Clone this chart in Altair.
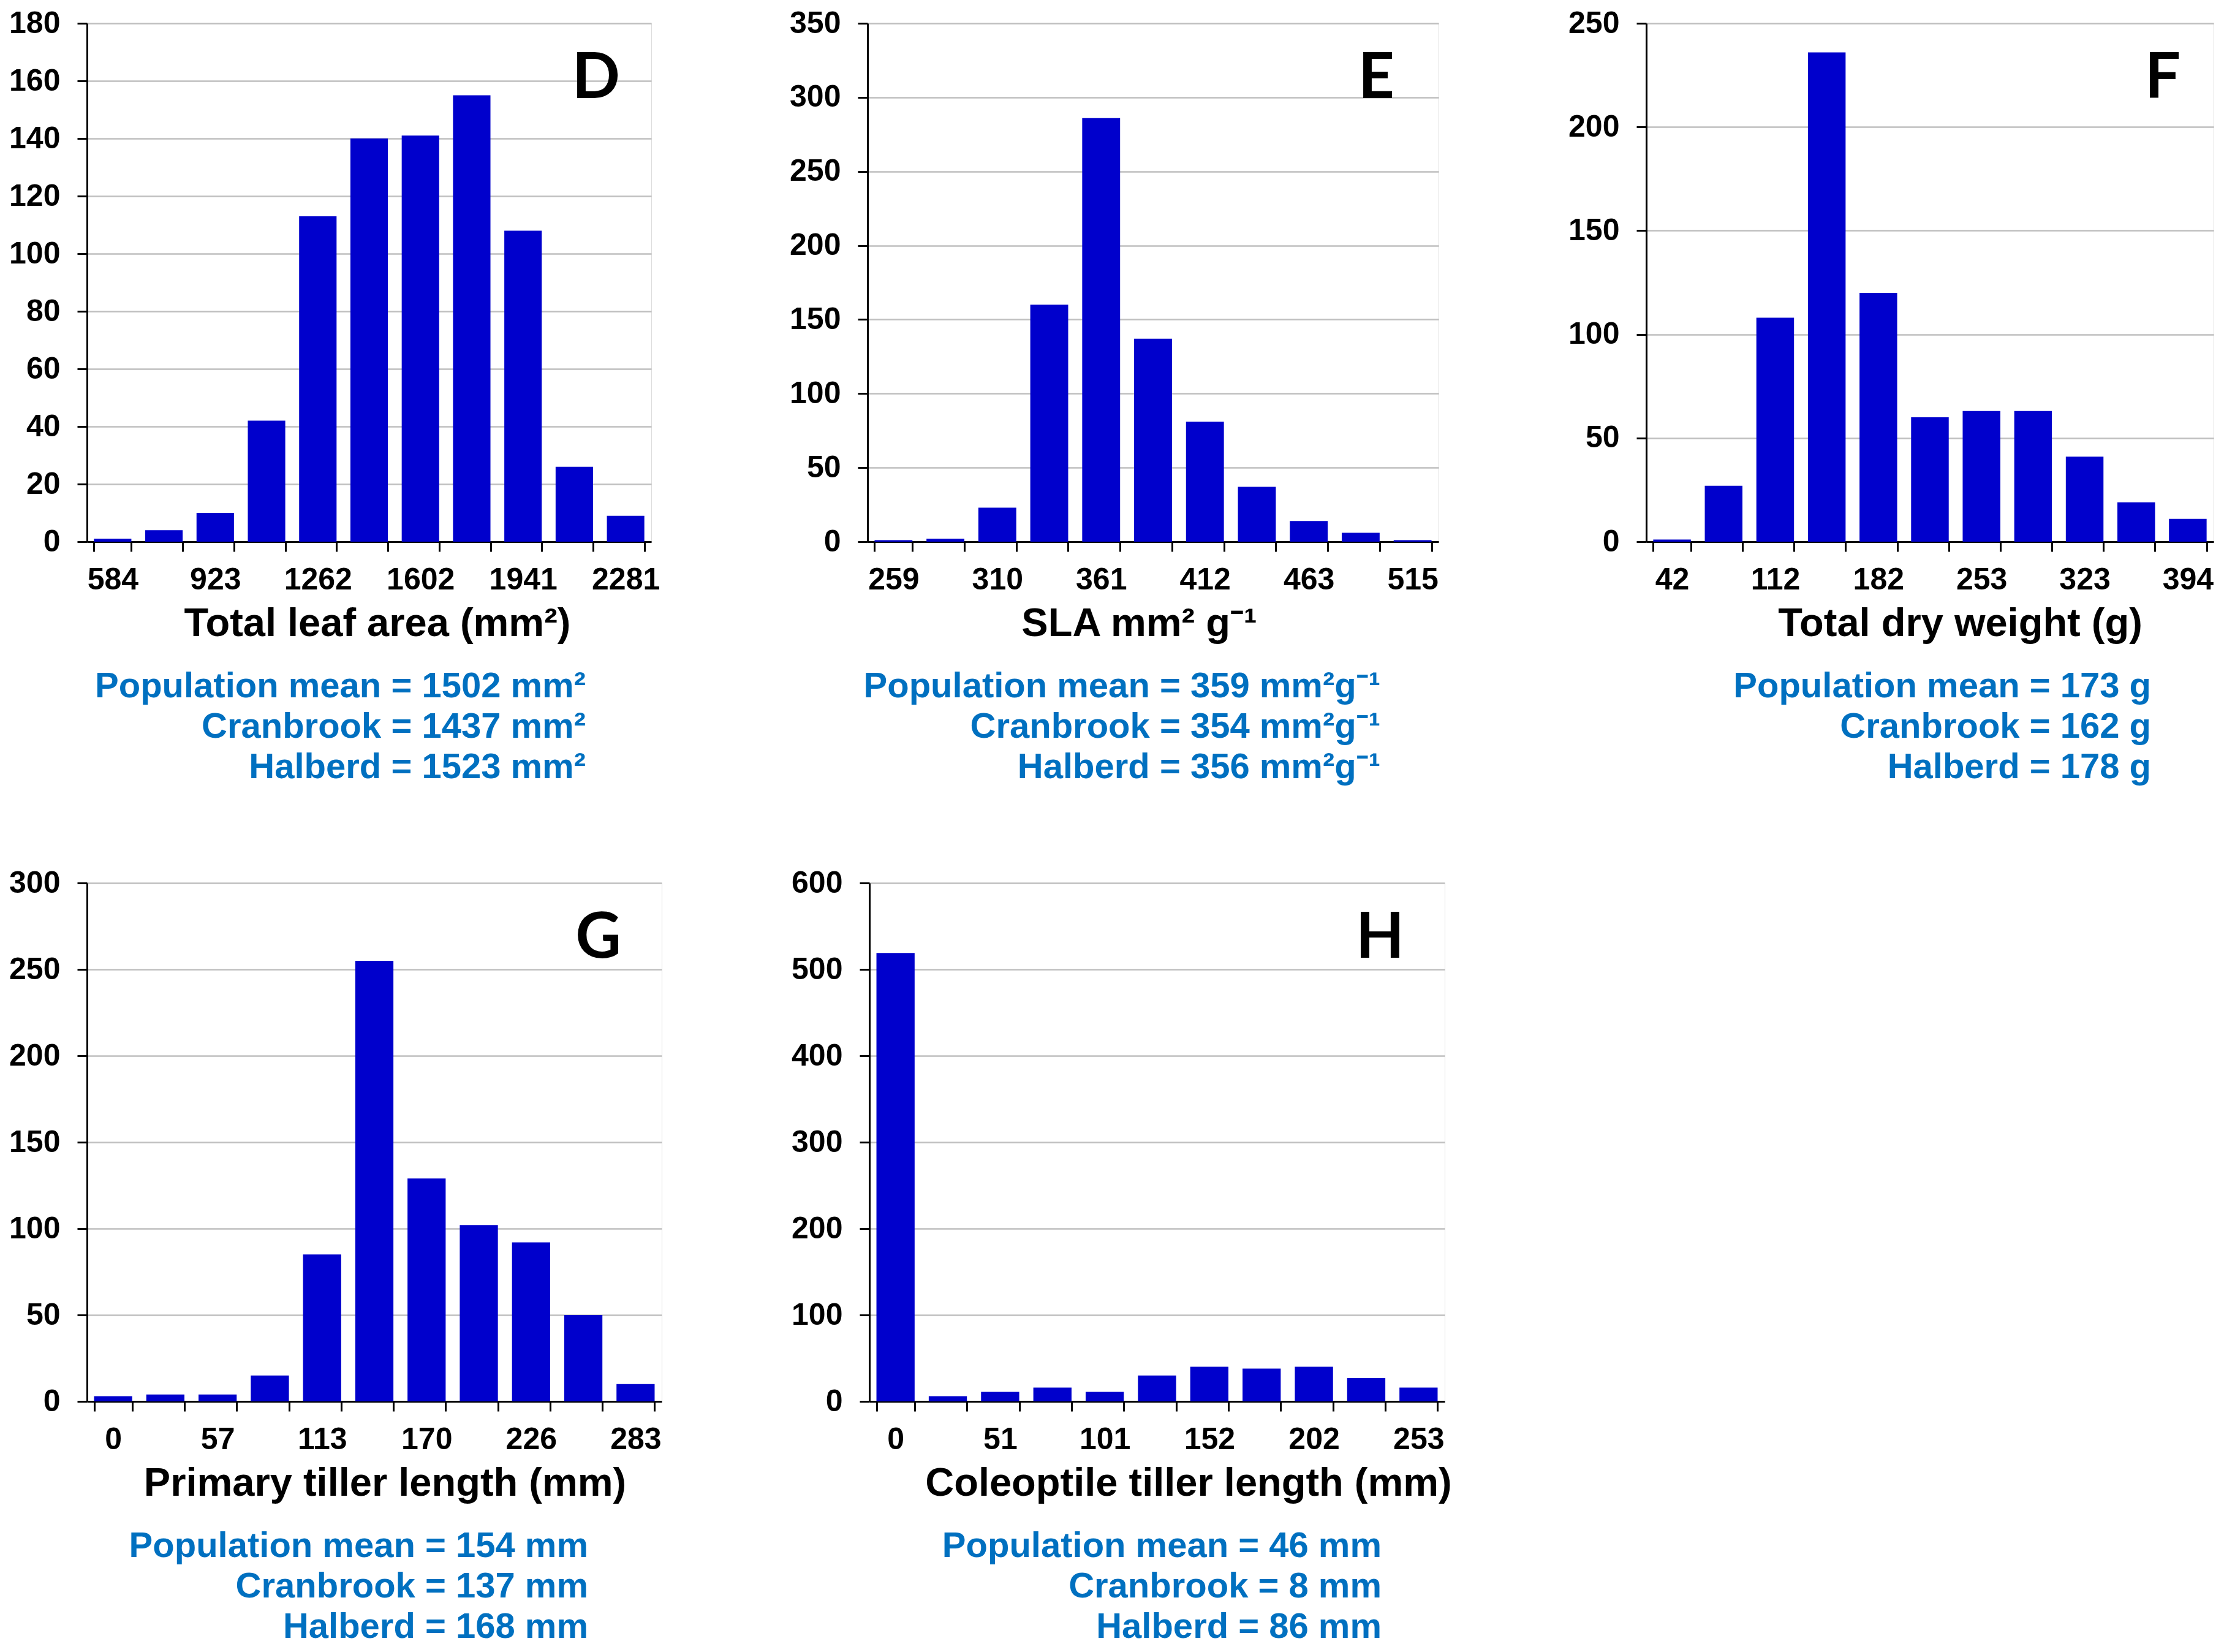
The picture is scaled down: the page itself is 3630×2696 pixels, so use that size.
import json
import altair as alt
import pandas as pd

FONT = "Liberation Sans"
LETTER_FONT = "Lato"
BAR = "#0000CC"
BLUE = "#0070C0"
GRID = "#BFBFBF"
PLOT_H = 846

# ---- data -------------------------------------------------------------
D_counts = [1, 4, 10, 42, 113, 140, 141, 155, 108, 26, 9]
D_ticks = ["584", "", "923", "", "1262", "", "1602", "", "1941", "", "2281"]
D_stats = ["Population mean = 1502 mm²", "Cranbrook = 1437 mm²", "Halberd = 1523 mm²"]

E_counts = [1, 2, 23, 160, 286, 137, 81, 37, 14, 6, 1]
E_ticks = ["259", "", "310", "", "361", "", "412", "", "463", "", "515"]
E_stats = ["Population mean = 359 mm²g⁻¹", "Cranbrook = 354 mm²g⁻¹", "Halberd = 356 mm²g⁻¹"]

F_counts = [1, 27, 108, 236, 120, 60, 63, 63, 41, 19, 11]
F_ticks = ["42", "", "112", "", "182", "", "253", "", "323", "", "394"]
F_stats = ["Population mean = 173 g", "Cranbrook = 162 g", "Halberd = 178 g"]

G_counts = [3, 4, 4, 15, 85, 255, 129, 102, 92, 50, 10]
G_ticks = ["0", "", "57", "", "113", "", "170", "", "226", "", "283"]
G_stats = ["Population mean = 154 mm", "Cranbrook = 137 mm", "Halberd = 168 mm"]

H_counts = [519, 6, 11, 16, 11, 30, 40, 38, 40, 27, 16]
H_ticks = ["0", "", "51", "", "101", "", "152", "", "202", "", "253"]
H_stats = ["Population mean = 46 mm", "Cranbrook = 8 mm", "Halberd = 86 mm"]


def panel(counts, ticks, ymax, ystep, xtitle, stats, letter,
          width, letter_dx, stats_dx, title_dx):
    df = pd.DataFrame({"bin": list(range(len(counts))), "count": counts})
    label_expr = json.dumps(ticks) + "[datum.value]"
    bars = alt.Chart(df).mark_bar(color=BAR).encode(
        x=alt.X(
            "bin:O",
            scale=alt.Scale(paddingInner=0.27, paddingOuter=0.135),
            axis=alt.Axis(
                tickBand="extent",
                labelExpr=label_expr,
                labelAngle=0,
                labelFont=FONT, labelFontSize=50, labelFontWeight="bold",
                labelColor="black", labelPadding=21,
                tickSize=16, tickWidth=3, tickColor="black",
                domainColor="black", domainWidth=3,
                grid=False,
                title=xtitle,
                titleFont=FONT, titleFontSize=65, titleFontWeight="bold",
                titleColor="black", titlePadding=15,
                titleX=width / 2 + title_dx,
            ),
        ),
        y=alt.Y(
            "count:Q",
            scale=alt.Scale(domain=[0, ymax], nice=False),
            axis=alt.Axis(
                values=list(range(0, ymax + 1, ystep)),
                title=None,
                labelFont=FONT, labelFontSize=50, labelFontWeight="bold",
                labelColor="black", labelPadding=28,
                tickSize=16, tickWidth=3, tickColor="black",
                domainColor="black", domainWidth=3,
                grid=True, gridColor=GRID, gridWidth=2.3,
            ),
        ),
    )
    one = pd.DataFrame({"k": [0]})
    letter_mark = alt.Chart(one).mark_text(
        font=LETTER_FONT, fontWeight="bold", fontSize=103,
        align="right", baseline="alphabetic", color="black",
    ).encode(x=alt.value(width - letter_dx), y=alt.value(122), text=alt.value(letter))
    stats_mark = alt.Chart(one).mark_text(
        font=FONT, fontWeight="bold", fontSize=58, lineHeight=66,
        align="right", baseline="alphabetic", color=BLUE,
    ).encode(x=alt.value(width - stats_dx), y=alt.value(PLOT_H + 254), text=alt.value(stats))
    return alt.layer(bars, letter_mark, stats_mark).properties(width=width, height=PLOT_H)


pD = panel(D_counts, D_ticks, 180, 20, "Total leaf area (mm²)", D_stats, "D", 921, 51, 107, 13)
pE = panel(E_counts, E_ticks, 350, 50, "SLA mm² g⁻¹", E_stats, "E", 932, 72, 95, -23)
pF = panel(F_counts, F_ticks, 250, 50, "Total dry weight (g)", F_stats, "F", 926, 54, 102, 49)
pG = panel(G_counts, G_ticks, 300, 50, "Primary tiller length (mm)", G_stats, "G", 938, 66, 120, 17)
pH = panel(H_counts, H_ticks, 600, 100, "Coleoptile tiller length (mm)", H_stats, "H", 939, 66, 103, 51)

row1 = alt.hconcat(pD, pE, pF, spacing=210)
row2 = alt.hconcat(pG, pH, spacing=210)

chart = alt.vconcat(row1, row2, spacing=132).properties(
    padding={"left": 6, "top": 4, "right": 0, "bottom": 0}
).configure_view(stroke=None).configure(background="white")

chart.save("out.html", embed_options={"renderer": "svg", "actions": False})
